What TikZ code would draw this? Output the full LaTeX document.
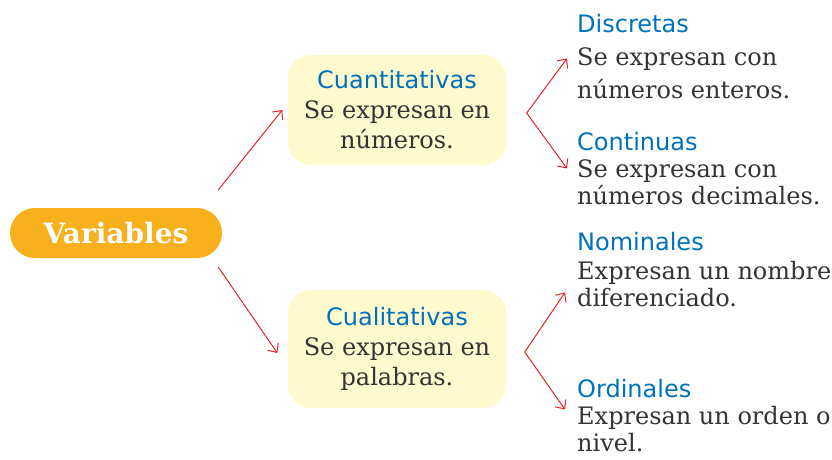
\documentclass[tikz,border=0pt]{standalone}
\usepackage{fontspec}
\setmainfont{DejaVu Serif}
\newfontfamily\headfont{DejaVu Sans}
\usetikzlibrary{arrows.meta,positioning}

\definecolor{varorange}{RGB}{249,176,29}
\definecolor{boxyellow}{RGB}{255,249,206}
\definecolor{headblue}{RGB}{0,114,188}
\definecolor{textgray}{RGB}{52,52,52}
\definecolor{arrowred}{RGB}{232,34,42}

\tikzset{
  pill/.style={fill=varorange, rounded corners=25pt, minimum width=212pt,
    minimum height=50pt, text=white, font=\bfseries\fontsize{28}{30}\selectfont},
  kindbox/.style={fill=boxyellow, rounded corners=24pt, minimum width=219pt,
    minimum height=110pt, align=center, text=textgray,
    font=\fontsize{24}{30}\selectfont},
  leaf/.style={anchor=north west, align=left, inner sep=0pt, text=textgray,
    font=\fontsize{24}{27}\selectfont},
  link/.style={draw=arrowred, line width=1pt,
    -{Straight Barb[length=7pt,width=13pt]}},
}
\newcommand{\kindhead}[1]{{\headfont\color{headblue}#1}}

\begin{document}
\begin{tikzpicture}[x=1pt,y=1pt]
\useasboundingbox (0,0) rectangle (832,-459);

% main node and the two kinds
\node[pill] (var) at (116,-233) {Variables};
\node[kindbox] (cuan) at (397,-110) {\kindhead{Cuantitativas}\\Se expresan en\\números.};
\node[kindbox, minimum height=118pt] (cual) at (397,-349) {\kindhead{Cualitativas}\\Se expresan en\\palabras.};

% leaves
\node[leaf, font=\fontsize{24}{33}\selectfont] (disc) at (577,-14) {\kindhead{Discretas}\\Se expresan con\\números enteros.};
\node[leaf] (cont) at (577,-132) {\kindhead{Continuas}\\Se expresan con\\números decimales.};
\node[leaf] (nom) at (577,-232) {\kindhead{Nominales}\\[2pt]Expresan un nombre\\diferenciado.};
\node[leaf] (ord) at (577,-379) {\kindhead{Ordinales}\\Expresan un orden o\\nivel.};

% forks
\coordinate (cuanFork) at ([shift={(20,-3)}]cuan.east);
\coordinate (cualFork) at ([shift={(18,-3)}]cual.east);

\draw[link] ([shift={(-4,43)}]var.east) -- ([xshift=-5]cuan.west);
\draw[link] ([shift={(-4,-34)}]var.east) -- ([shift={(-10,-4)}]cual.west);

\draw[link] (cuanFork) -- ([shift={(-10,-2)}]disc.west);
\draw[link] (cuanFork) -- ([xshift=-10]cont.west);
\draw[link] (cualFork) -- ([shift={(-12,-23)}]nom.west);
\draw[link] (cualFork) -- ([shift={(-12,6)}]ord.west);
\end{tikzpicture}
\end{document}
